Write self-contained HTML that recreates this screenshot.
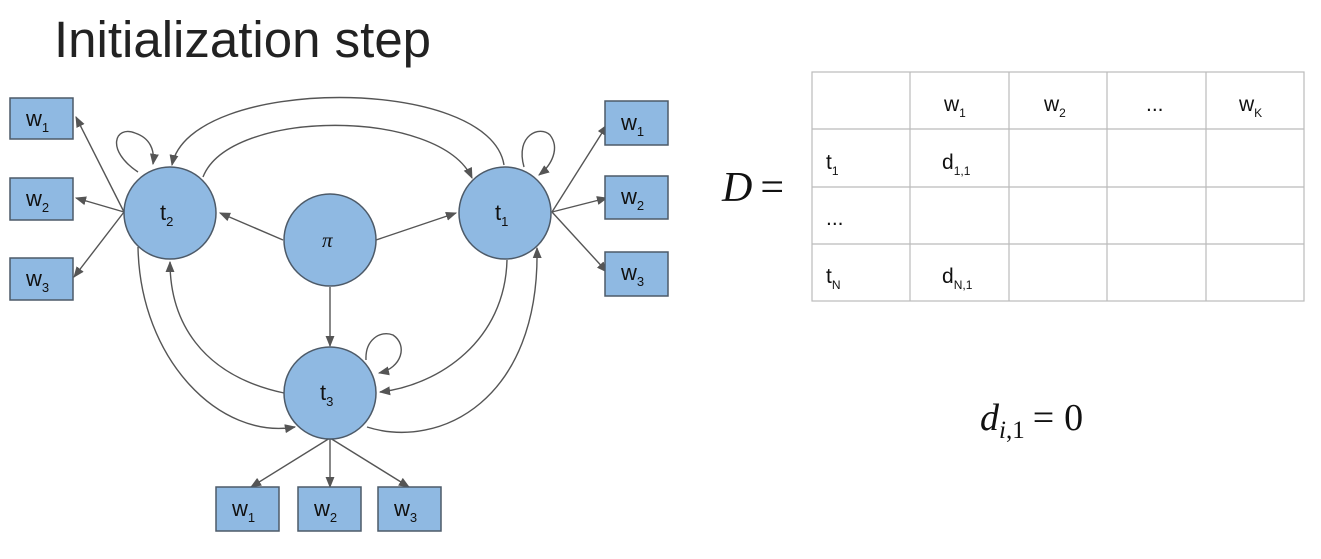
<!DOCTYPE html>
<html><head><meta charset="utf-8"><style>
html,body{margin:0;padding:0;background:#fff;}
svg{display:block;}
</style></head><body>
<svg width="1321" height="559" viewBox="0 0 1321 559" xmlns="http://www.w3.org/2000/svg" font-family="Liberation Sans, sans-serif">
<defs>
<marker id="a" viewBox="0 0 10 10" refX="9" refY="5" markerWidth="8" markerHeight="8" orient="auto-start-reverse">
<path d="M0,1 L10,5 L0,9 z" fill="#555"/></marker>
</defs>
<text x="54" y="57" font-size="51" fill="#222">Initialization step</text>

<g stroke="#555" stroke-width="1.4" fill="none" marker-end="url(#a)">
<path d="M504,165 C 490,75 190,75 172,165"/>
<path d="M203,177 C 230,108 440,108 472,178"/>
<path d="M138,172 C 105,150 115,125 135,133 C 150,138 155,150 153,164"/>
<path d="M524,167 C 515,135 540,125 550,135 C 560,148 552,165 539,175"/>
<path d="M366,360 C 365,340 380,330 393,335 C 408,345 402,368 379,373"/>
<path d="M283,240 L220,213"/>
<path d="M376,240 L456,213"/>
<path d="M330,287 L330,346"/>
<path d="M124,212 L76,117"/>
<path d="M124,212 L76,198"/>
<path d="M124,212 L74,277"/>
<path d="M552,212 L607,125"/>
<path d="M552,212 L607,198"/>
<path d="M552,212 L607,272"/>
<path d="M330,438 L251,487"/>
<path d="M330,438 L330,487"/>
<path d="M330,438 L409,487"/>
<path d="M284,393 C 200,375 170,320 170,262"/>
<path d="M138,247 C 140,360 220,440 295,427"/>
<path d="M507,260 C 505,340 440,385 380,392"/>
<path d="M367,427 C 440,450 540,400 537,248"/>
</g>

<g fill="#8fb9e2" stroke="#4d5a68" stroke-width="1.5">
<circle cx="170" cy="213" r="46"/>
<circle cx="330" cy="240" r="46"/>
<circle cx="505" cy="213" r="46"/>
<circle cx="330" cy="393" r="46"/>
<rect x="10" y="98" width="63" height="41"/>
<rect x="10" y="178" width="63" height="42"/>
<rect x="10" y="258" width="63" height="42"/>
<rect x="605" y="101" width="63" height="44"/>
<rect x="605" y="176" width="63" height="43"/>
<rect x="605" y="252" width="63" height="44"/>
<rect x="216" y="487" width="63" height="44"/>
<rect x="298" y="487" width="63" height="44"/>
<rect x="378" y="487" width="63" height="44"/>
</g>

<g fill="#111" font-size="22">
<text x="160" y="220">t<tspan font-size="13" dy="6">2</tspan></text>
<text x="495" y="220">t<tspan font-size="13" dy="6">1</tspan></text>
<text x="320" y="400">t<tspan font-size="13" dy="6">3</tspan></text>
<text x="322" y="247" font-family="Liberation Serif, serif" font-style="italic" font-size="21">π</text>
<text x="26" y="126">w<tspan font-size="13" dy="6">1</tspan></text>
<text x="26" y="206">w<tspan font-size="13" dy="6">2</tspan></text>
<text x="26" y="286">w<tspan font-size="13" dy="6">3</tspan></text>
<text x="621" y="130">w<tspan font-size="13" dy="6">1</tspan></text>
<text x="621" y="204">w<tspan font-size="13" dy="6">2</tspan></text>
<text x="621" y="280">w<tspan font-size="13" dy="6">3</tspan></text>
<text x="232" y="516">w<tspan font-size="13" dy="6">1</tspan></text>
<text x="314" y="516">w<tspan font-size="13" dy="6">2</tspan></text>
<text x="394" y="516">w<tspan font-size="13" dy="6">3</tspan></text>
</g>

<g stroke="#bbb" stroke-width="1.2" fill="none">
<rect x="812" y="72" width="492" height="229"/>
<line x1="910" y1="72" x2="910" y2="301"/>
<line x1="1009" y1="72" x2="1009" y2="301"/>
<line x1="1107" y1="72" x2="1107" y2="301"/>
<line x1="1206" y1="72" x2="1206" y2="301"/>
<line x1="812" y1="129" x2="1304" y2="129"/>
<line x1="812" y1="187" x2="1304" y2="187"/>
<line x1="812" y1="244" x2="1304" y2="244"/>
</g>
<g fill="#111" font-size="21">
<text x="944" y="111">w<tspan font-size="12" dy="6">1</tspan></text>
<text x="1044" y="111">w<tspan font-size="12" dy="6">2</tspan></text>
<text x="1146" y="111">...</text>
<text x="1239" y="111">w<tspan font-size="12" dy="6">K</tspan></text>
<text x="826" y="169">t<tspan font-size="12" dy="6">1</tspan></text>
<text x="942" y="169">d<tspan font-size="12" dy="6">1,1</tspan></text>
<text x="826" y="225">...</text>
<text x="826" y="283">t<tspan font-size="12" dy="6">N</tspan></text>
<text x="942" y="283">d<tspan font-size="12" dy="6">N,1</tspan></text>
</g>
<text x="722" y="201" font-family="Liberation Serif, serif" font-size="42" fill="#111"><tspan font-style="italic">D</tspan><tspan dx="8">=</tspan></text>
<text x="980" y="430" font-family="Liberation Serif, serif" font-size="38" fill="#111"><tspan font-style="italic">d</tspan><tspan font-size="25" dy="8"><tspan font-style="italic">i</tspan>,1</tspan><tspan dy="-8" dx="8">=</tspan><tspan dx="10">0</tspan></text>
</svg>
</body></html>
